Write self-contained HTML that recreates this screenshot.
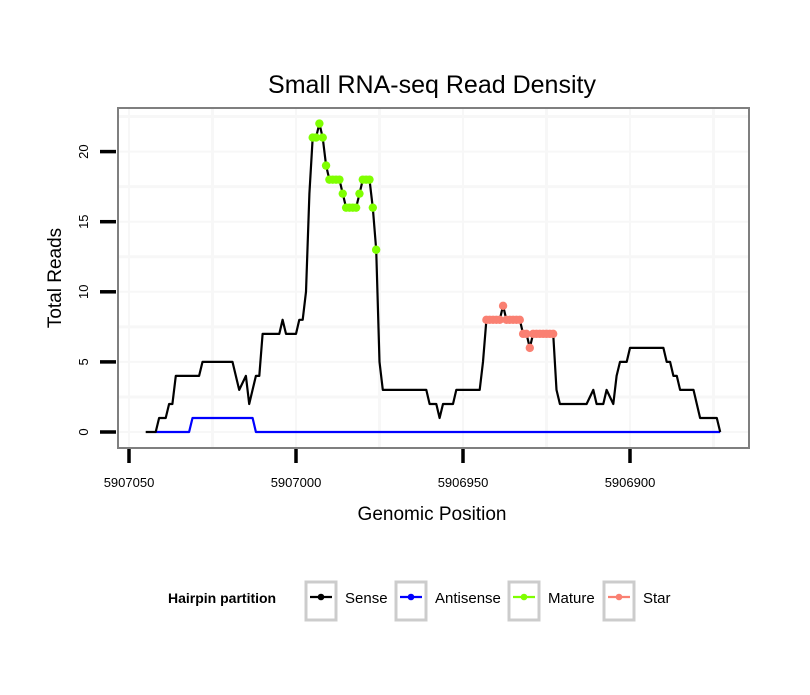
<!DOCTYPE html>
<html><head><meta charset="utf-8"><style>
body{margin:0;background:#fff;}
svg text{font-family:"Liberation Sans",sans-serif;}
</style></head><body>
<svg id="chart" width="810" height="690" viewBox="0 0 810 690" xmlns="http://www.w3.org/2000/svg">
<rect x="0" y="0" width="810" height="690" fill="#fff"/>
<text x="432" y="93" font-size="25" text-anchor="middle">Small RNA-seq Read Density</text>
<g id="grid"></g>
<g id="series"></g>
<rect x="118" y="108" width="631" height="340" fill="none" stroke="#7f7f7f" stroke-width="2"/>
<g id="axes"></g>
<text x="432" y="520" font-size="19" text-anchor="middle">Genomic Position</text>
<text x="0" y="0" font-size="19" text-anchor="middle" transform="translate(61,278) rotate(-90)">Total Reads</text>
<g>
<text x="168" y="603" font-size="14" font-weight="bold">Hairpin partition</text>
<g id="legend-items"></g>
</g>
</svg>
<script>
const senseX=[5907045,5907042,5907041,5907039,5907038,5907037,5907036,5907029,5907028,5907019,5907017,5907015,5907014,5907012,5907011,5907010,5907005,5907004,5907003,5907000,5906999,5906998,5906997,5906996,5906995,5906994,5906993,5906992,5906991,5906990,5906987,5906986,5906985,5906982,5906981,5906980,5906978,5906977,5906976,5906975,5906974,5906961,5906960,5906958,5906957,5906956,5906953,5906952,5906945,5906944,5906943,5906939,5906938,5906937,5906933,5906932,5906931,5906930,5906929,5906923,5906922,5906921,5906913,5906911,5906910,5906908,5906907,5906905,5906904,5906903,5906901,5906900,5906890,5906889,5906888,5906887,5906886,5906885,5906881,5906879,5906874,5906873];
const senseY=[0,0,1,1,2,2,4,4,5,5,3,4,2,4,4,7,7,8,7,7,8,8,10,17,21,21,22,21,19,18,18,17,16,16,17,18,18,16,13,5,3,3,2,2,1,2,2,3,3,5,8,8,9,8,8,7,7,6,7,7,3,2,2,3,2,2,3,2,4,5,5,6,6,5,5,4,4,3,3,1,1,0];
const antiX=[5907042,5907032,5907031,5907013,5907012,5906873];
const antiY=[0,0,1,1,0,0];
const matureX=[5906995,5906994,5906993,5906992,5906991,5906990,5906989,5906988,5906987,5906986,5906985,5906984,5906983,5906982,5906981,5906980,5906979,5906978,5906977,5906976];
const matureY=[21,21,22,21,19,18,18,18,18,17,16,16,16,16,17,18,18,18,16,13];
const starX=[5906943,5906942,5906941,5906940,5906939,5906938,5906937,5906936,5906935,5906934,5906933,5906932,5906931,5906930,5906929,5906928,5906927,5906926,5906925,5906924,5906923];
const starY=[8,8,8,8,8,9,8,8,8,8,8,7,7,6,7,7,7,7,7,7,7];
const xTicks=[5907050,5907000,5906950,5906900];
const yTicks=[0,5,10,15,20];
const legendLabels=["Sense","Antisense","Mature","Star"];
const legendColors=["#000","#0000ff","#7fff00","#fa8072"];

const NS="http://www.w3.org/2000/svg";
const sx=v=>129+(5907050-v)*3.34;
const sy=v=>432-v*14.02;
function mk(tag,attrs,parent){const e=document.createElementNS(NS,tag);for(const k in attrs)e.setAttribute(k,attrs[k]);parent.appendChild(e);return e;}
const grid=document.getElementById('grid'),series=document.getElementById('series'),axes=document.getElementById('axes');
mk('rect',{x:118,y:108,width:631,height:340,fill:'#fff'},grid);
for(let v=5907075;v>=5906850;v-=25){const x=sx(v);if(x<119||x>748)continue;
 const l=mk('line',{x1:x,x2:x,y1:109,y2:447,stroke:'#f7f7f7','stroke-width':v%50===0?2:3},grid);
 
 }
for(let v=-2.5;v<=25;v+=2.5){const y=sy(v);if(y<109||y>447)continue;
 const l=mk('line',{x1:119,x2:748,y1:y,y2:y,stroke:'#f7f7f7','stroke-width':(v%5===0)?2:3},grid);
 
 }
function line(xs,ys,color,name){const p=xs.map((x,i)=>sx(x).toFixed(1)+','+sy(ys[i]).toFixed(1)).join(' ');
 const e=mk('polyline',{points:p,fill:'none',stroke:color,'stroke-width':2.2,'stroke-linejoin':'round'},series);
 
 }
line(antiX,antiY,'#0000ff','antisense-line');
line(senseX,senseY,'#000','sense-line');
function pts(xs,ys,color,name){xs.forEach((x,i)=>{const c=mk('circle',{cx:sx(x),cy:sy(ys[i]),r:4.2,fill:color},series);
 
 });}
pts(matureX,matureY,'#7fff00','mature-point');
pts(starX,starY,'#fa8072','star-point');
xTicks.forEach(v=>{const x=sx(v);
 const t=mk('line',{x1:x,x2:x,y1:449,y2:463,stroke:'#000','stroke-width':3.5},axes);
 
 
 const tx=mk('text',{x:x,y:487,'font-size':13,'text-anchor':'middle'},axes);tx.textContent=v;
 
 });
yTicks.forEach(v=>{const y=sy(v);
 const t=mk('line',{x1:100,x2:116,y1:y,y2:y,stroke:'#000','stroke-width':3.5},axes);
 
 
 const tx=mk('text',{x:0,y:0,'font-size':13,'text-anchor':'middle',transform:'translate(88,'+y+') rotate(-90)'},axes);tx.textContent=v;
 
 });
const lg=document.getElementById('legend-items');
const boxX=[306,396,509,604];
legendLabels.forEach((lab,i)=>{const g=mk('g',{},lg);
 
 
 const bx=boxX[i];
 mk('rect',{x:bx,y:582,width:30,height:38,fill:'#fff',stroke:'#cccccc','stroke-width':3},g);
 mk('line',{x1:bx+4,x2:bx+26,y1:597,y2:597,stroke:legendColors[i],'stroke-width':2.2},g);
 mk('circle',{cx:bx+15,cy:597,r:3.3,fill:legendColors[i]},g);
 const t=mk('text',{x:bx+39,y:603,'font-size':15},g);t.textContent=lab;});
</script>
</body></html>
